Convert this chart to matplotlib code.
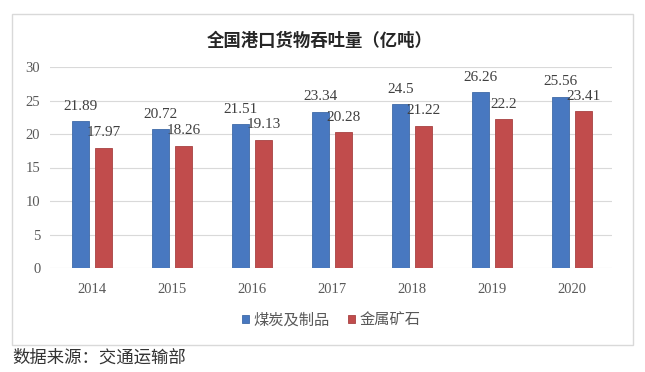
import matplotlib
matplotlib.use("Agg")
import matplotlib.pyplot as plt
from matplotlib.patches import Rectangle
import numpy as np

years = ["2014", "2015", "2016", "2017", "2018", "2019", "2020"]
coal = [21.89, 20.72, 21.51, 23.34, 24.5, 26.26, 25.56]
metal = [17.97, 18.26, 19.13, 20.28, 21.22, 22.2, 23.41]
series_names = ["煤炭及制品", "金属矿石"]
yticks = [0, 5, 10, 15, 20, 25, 30]
title = "全国港口货物吞吐量（亿吨）"
source = "数据来源：交通运输部"

cjk = ["Noto Sans CJK SC", "DejaVu Sans"]
serif = ["Liberation Serif", "DejaVu Serif"]

fig = plt.figure(figsize=(6.45, 3.72), dpi=100)
fig.patch.set_facecolor("white")

# panel border
fig.patches.append(Rectangle((12/645, 1-345/372), (633-12)/645, (345-14)/372,
                             transform=fig.transFigure, fill=False,
                             edgecolor="#D9D9D9", linewidth=1.0, zorder=0))

ax = fig.add_axes([50/645, 1-268/372, (612-50)/645, (268-67)/372])
x = np.arange(len(years))
w = 0.21
off = 0.143
b1 = ax.bar(x - off, coal, w, color="#4878C0", edgecolor="#3F6AA8", linewidth=0.6, zorder=3)
b2 = ax.bar(x + off, metal, w, color="#C14C4C", edgecolor="#A84242", linewidth=0.6, zorder=3)

for bars, vals in ((b1, coal), (b2, metal)):
    for r, v in zip(bars, vals):
        ax.annotate(f"{v:g}", (r.get_x() + r.get_width()/2, v), xytext=(0, 6),
                    textcoords="offset points", ha="center", va="bottom",
                    fontsize=11, family=serif, color="#404040", zorder=4)

ax.set_xlim(-0.525, 6.5)
ax.set_ylim(0, 30)
ax.set_yticks(yticks)
ax.set_yticklabels([str(t) for t in yticks], family=serif, fontsize=10.5, color="#595959")
ax.set_xticks(x)
ax.set_xticklabels(years, family=serif, fontsize=10.5, color="#595959")
ax.tick_params(axis="both", length=0)
ax.tick_params(axis="y", pad=7)
ax.tick_params(axis="x", pad=11)
ax.yaxis.grid(True, color="#D9D9D9", linewidth=0.8, zorder=0)
ax.set_axisbelow(True)
for s in ax.spines.values():
    s.set_visible(False)

fig.text(320/645, 1-41/372, title, ha="center", va="center", fontsize=12.5,
         fontweight="bold", family=cjk, color="#262626")

# legend
leg = ax.legend([b1, b2], series_names, loc="center", bbox_to_anchor=(0.5, 1-(320-67)/(268-67)),
                ncol=2, frameon=False, prop={"family": cjk, "size": 11},
                handlelength=0.45, handleheight=0.45, handletextpad=0.3, columnspacing=1.2)
for t in leg.get_texts():
    t.set_color("#595959")

fig.text(12/645, 1-358/372, source, ha="left", va="center", fontsize=12.5,
         family=cjk, color="#333333")

fig.savefig("out.png", dpi=100)
